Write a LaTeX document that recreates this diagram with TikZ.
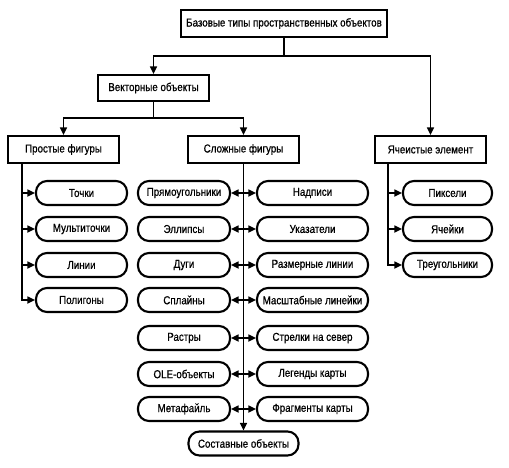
\documentclass[tikz,border=0pt]{standalone}
\usepackage{fontspec}
\setmainfont{Liberation Sans}[FakeStretch=0.85, FakeBold=0.7]
\usetikzlibrary{arrows.meta}
\begin{document}
\begin{tikzpicture}[x=1pt,y=-1pt,
  rect/.style={draw, line width=2.1pt, minimum height=27pt, inner sep=1pt, font=\fontsize{11.5}{13}\selectfont},
  rnd/.style={draw, line width=2.1pt, rounded corners=11pt, minimum height=24pt, inner sep=1pt, font=\fontsize{11.5}{13}\selectfont},
  conn/.style={line width=1.6pt},
  arr/.style={conn, -{Triangle[length=7.5pt,width=7pt]}}]
\useasboundingbox (0,0) rectangle (509,467);
\fill[white] (0,0) rectangle (509,467);
% main boxes
\node[rect, minimum width=206pt] (top) at (284,23.5) {Базовые типы пространственных объектов};
\node[rect, minimum width=111pt, minimum height=26pt] (vec) at (153.5,88) {Векторные объекты};
\node[rect, minimum width=111pt] (simple) at (63.5,149.5) {Простые фигуры};
\node[rect, minimum width=111pt] (complex) at (243.5,149.5) {Сложные фигуры};
\node[rect, minimum width=111pt] (cell) at (430.5,149.5) {Ячеистые элемент};
% simple children
\node[rnd, minimum width=91pt] (s1) at (81.5,193) {Точки};
\node[rnd, minimum width=91pt] (s2) at (81.5,229) {Мультиточки};
\node[rnd, minimum width=91pt] (s3) at (81.5,265) {Линии};
\node[rnd, minimum width=91pt] (s4) at (81.5,300) {Полигоны};
% complex children left
\node[rnd, minimum width=92pt] (a1) at (184,193) {Прямоугольники};
\node[rnd, minimum width=92pt] (a2) at (184,229) {Эллипсы};
\node[rnd, minimum width=92pt] (a3) at (184,265) {Дуги};
\node[rnd, minimum width=92pt] (a4) at (184,300) {Сплайны};
\node[rnd, minimum width=92pt] (a5) at (184,338) {Растры};
\node[rnd, minimum width=92pt] (a6) at (184,374) {OLE-объекты};
\node[rnd, minimum width=92pt] (a7) at (184,409) {Метафайль};
% complex children right
\node[rnd, minimum width=111pt] (b1) at (312.5,193) {Надписи};
\node[rnd, minimum width=111pt] (b2) at (312.5,229) {Указатели};
\node[rnd, minimum width=111pt] (b3) at (312.5,265) {Размерные линии};
\node[rnd, minimum width=111pt] (b4) at (312.5,300) {Масштабные линейки};
\node[rnd, minimum width=111pt] (b5) at (312.5,338) {Стрелки на север};
\node[rnd, minimum width=111pt] (b6) at (312.5,374) {Легенды карты};
\node[rnd, minimum width=111pt] (b7) at (312.5,409) {Фрагменты карты};
\node[rnd, minimum width=110pt] (comp) at (243.5,443.5) {Составные объекты};
% cell children
\node[rnd, minimum width=89pt] (c1) at (447.5,193) {Пиксели};
\node[rnd, minimum width=89pt] (c2) at (447.5,229) {Ячейки};
\node[rnd, minimum width=89pt] (c3) at (447.5,265) {Треугольники};
% connectors top levels
\draw[arr] (top.south) -- ++(0,18) -| (vec.north);
\draw[arr] (top.south) -- ++(0,18) -| (cell.north);
\draw[arr] (vec.south) -- ++(0,16) -| (simple.north);
\draw[arr] (vec.south) -- ++(0,16) -| (complex.north);
% simple tree
\path (simple.south) ++(-41.5,0) coordinate (sx);
\foreach \n in {s1,s2,s3,s4} \draw[arr] (sx) |- (\n.west);
% complex tree
\draw[arr] (complex.south) -- (comp.north);
\foreach \n in {a1,a2,a3,a4,a5,a6,a7} \draw[arr] (complex.south |- \n.east) -- (\n.east);
\foreach \n in {b1,b2,b3,b4,b5,b6,b7} \draw[arr] (complex.south |- \n.west) -- (\n.west);
% cell tree
\path (cell.south) ++(-42.5,0) coordinate (cx);
\foreach \n in {c1,c2,c3} \draw[arr] (cx) |- (\n.west);
\end{tikzpicture}
\end{document}
